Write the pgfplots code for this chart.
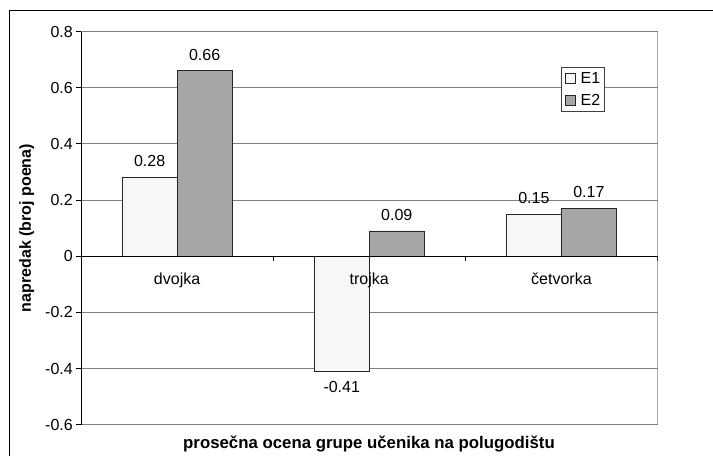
\documentclass[border=0pt]{standalone}
\usepackage{pgfplots}
\pgfplotsset{compat=1.18}
\usepackage{fontspec}
\setmainfont{Liberation Sans}
\definecolor{eone}{HTML}{F7F7F7}
\definecolor{etwo}{HTML}{A6A6A6}
\definecolor{gridc}{HTML}{808080}
\newcommand\cf{\fontsize{16bp}{19bp}\selectfont}
\pgfplotsset{
  sqlegend/.style={legend image code/.code={\draw[##1, line width=0.8pt] (0bp,-5bp) rectangle (10bp,5bp);}},
}
\begin{document}
\cf
\begin{tikzpicture}
\useasboundingbox (-81bp,-31.3bp) rectangle (632bp,424.7bp);
\begin{axis}[
  at={(0,0)}, anchor=south west,
  scale only axis, width=576.5bp, height=393.2bp,
  xmin=0, xmax=3, ymin=-0.6, ymax=0.8,
  xtick=\empty,
  ytick={-0.6,-0.4,-0.2,0,0.2,0.4,0.6,0.8},
  yticklabels={-0.6,-0.4,-0.2,0,0.2,0.4,0.6,0.8},
  ytick pos=left,
  tick align=outside, major tick length=5bp,
  ytick style={black, line width=1pt},
  yticklabel style={font=\cf, inner sep=0pt, xshift=-3bp},
  ymajorgrids, grid style={gridc, line width=1pt},
  axis line style={draw=none},
  ybar=0pt, bar width=55bp,
  nodes near coords={\pgfmathprintnumber[fixed, fixed zerofill, precision=2, assume math mode=true]{\pgfplotspointmeta}},
  nodes near coords align={vertical},
  every node near coord/.append style={font=\cf, inner xsep=0pt, inner ysep=10bp},
  legend style={at={(rel axis cs:0.8326,0.9097)}, anchor=north west,
    draw=black!75, line width=0.8pt, font=\cf, inner xsep=4bp, inner ysep=5bp,
    nodes={inner sep=0pt, text height=11.5bp, text depth=0pt},
    row sep=10.5bp,
    /tikz/every odd column/.append style={column sep=4.5bp}},
  legend cell align=left,
]
\addplot[fill=eone, draw=black!85, line width=0.8pt, sqlegend] coordinates {
  (0.5,0.28)
  (1.5,-0.41)
  (2.5,0.15)
};
\addplot[fill=etwo, draw=black!85, line width=0.8pt, sqlegend] coordinates {
  (0.5,0.66)
  (1.5,0.09)
  (2.5,0.17)
};
\legend{E1,E2}
\draw[gridc, line width=1pt] (rel axis cs:0,1) -- (rel axis cs:1,1) -- (rel axis cs:1,0) -- (rel axis cs:0,0);
\draw[black, line width=1pt] (rel axis cs:0,0) -- (rel axis cs:0,1);
\draw[black, line width=1pt] (axis cs:0,0) -- (axis cs:3,0);
\draw[black, line width=1pt] (axis cs:1,0) -- ([yshift=-5bp]axis cs:1,0);
\draw[black, line width=1pt] (axis cs:2,0) -- ([yshift=-5bp]axis cs:2,0);
\draw[black, line width=1pt] (axis cs:3,0) -- ([yshift=-5bp]axis cs:3,0);
\node[anchor=base, font=\cf, yshift=-28.3bp] at (axis cs:0.5,0) {dvojka};
\node[anchor=base, font=\cf, yshift=-28.3bp] at (axis cs:1.5,0) {trojka};
\node[anchor=base, font=\cf, yshift=-28.3bp] at (axis cs:2.5,0) {četvorka};
\end{axis}
\node[anchor=base, font=\fontsize{16.8bp}{20bp}\selectfont\bfseries] at (288bp,-24bp) {prosečna ocena grupe učenika na polugodištu};
\node[anchor=base, rotate=90, font=\cf\bfseries] at (-50bp,196.6bp) {napredak (broj poena)};
\draw[black, line width=1.3bp] (-71.5bp,-40bp) -- (-71.5bp,414.2bp) -- (640bp,414.2bp);
\end{tikzpicture}
\end{document}
